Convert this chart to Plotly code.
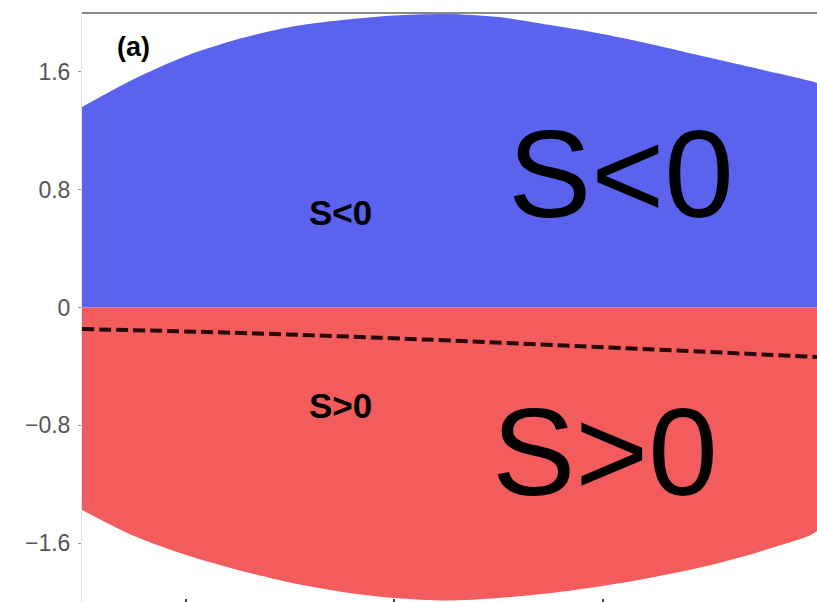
import plotly.graph_objects as go

# ---- data ----
x_grid = [0, 0.25, 0.5, 0.75, 1.0, 1.25, 1.5, 1.75, 2.0, 2.25, 2.5, 2.75, 3.0, 3.25, 3.5, 3.53]
upper_boundary = [1.362, 1.552, 1.708, 1.823, 1.905, 1.952, 1.983, 1.993, 1.973, 1.918,
                  1.857, 1.783, 1.701, 1.620, 1.538, 1.525]
lower_boundary = [-1.375, -1.552, -1.681, -1.783, -1.868, -1.932, -1.973, -1.990, -1.973, -1.939,
                  -1.891, -1.830, -1.756, -1.660, -1.545, -1.518]
dashed_x = [0, 0.81, 1.78, 3.53]
dashed_y = [-0.146, -0.175, -0.225, -0.336]
y_tickvals = [1.6, 0.8, 0, -0.8, -1.6]
y_ticktext = ["1.6", "0.8", "0", "\u22120.8", "\u22121.6"]
x_tickvals = [0.5, 1.5, 2.5]

BLUE = "rgb(90,98,238)"
RED = "rgb(242,92,92)"

zeros = [0.0] * len(x_grid)

fig = go.Figure()
# S<0 region (blue): between 0 and upper boundary
fig.add_trace(go.Scatter(x=x_grid, y=zeros, mode="lines", line=dict(width=0),
                         hoverinfo="skip", showlegend=False))
fig.add_trace(go.Scatter(x=x_grid, y=upper_boundary, mode="lines", fill="tonexty",
                         fillcolor=BLUE, line=dict(width=0, shape="spline", smoothing=0.8),
                         hoverinfo="skip", showlegend=False))
# S>0 region (red): between lower boundary and 0
fig.add_trace(go.Scatter(x=x_grid, y=zeros, mode="lines", line=dict(width=0),
                         hoverinfo="skip", showlegend=False))
fig.add_trace(go.Scatter(x=x_grid, y=lower_boundary, mode="lines", fill="tonexty",
                         fillcolor=RED, line=dict(width=0, shape="spline", smoothing=0.8),
                         hoverinfo="skip", showlegend=False))
# dashed line
fig.add_trace(go.Scatter(
    x=dashed_x, y=dashed_y, mode="lines",
    line=dict(color="rgb(40,8,8)", width=4, dash="12px,5px", shape="spline"),
    hoverinfo="skip", showlegend=False))

fig.update_layout(
    width=817, height=602,
    margin=dict(l=82, r=0, t=13, b=0),
    paper_bgcolor="white", plot_bgcolor="white",
    font=dict(family="Liberation Sans, Arial, sans-serif"),
    xaxis=dict(range=[0, 3.53], showgrid=False, zeroline=False, showline=False,
               tickvals=x_tickvals, showticklabels=False, ticks="inside",
               ticklen=3, tickcolor="#444", tickwidth=1.5),
    yaxis=dict(range=[-2, 2], showgrid=False, zeroline=False,
               showline=True, linecolor="#e4e4e4", linewidth=1,
               tickvals=y_tickvals, ticktext=y_ticktext,
               ticks="outside", ticklen=3, tickcolor="#999", tickwidth=1,
               ticklabelstandoff=3,
               tickfont=dict(size=23, color="#555", family="Liberation Sans, Arial, sans-serif")),
    shapes=[dict(type="line", xref="paper", yref="paper", x0=0, x1=1, y0=1, y1=1,
                 line=dict(color="#888", width=2))],
)

annots = [
    ("(a)", 0.0707, 0.942, 27, "bold"),
    ("S<0", 0.352, 0.662, 35, "bold"),
    ("S>0", 0.352, 0.334, 35, "bold"),
    ("S<0", 0.734, 0.727, 125, "normal"),
    ("S>0", 0.712, 0.255, 125, "normal"),
]
for txt, ax, ay, size, weight in annots:
    fig.add_annotation(
        x=ax, y=ay, xref="paper", yref="paper", text=txt, showarrow=False,
        xanchor="center", yanchor="middle",
        font=dict(size=size, color="black", weight=weight,
                  family="Liberation Sans, Arial, sans-serif"))

fig.write_html("out.html")
